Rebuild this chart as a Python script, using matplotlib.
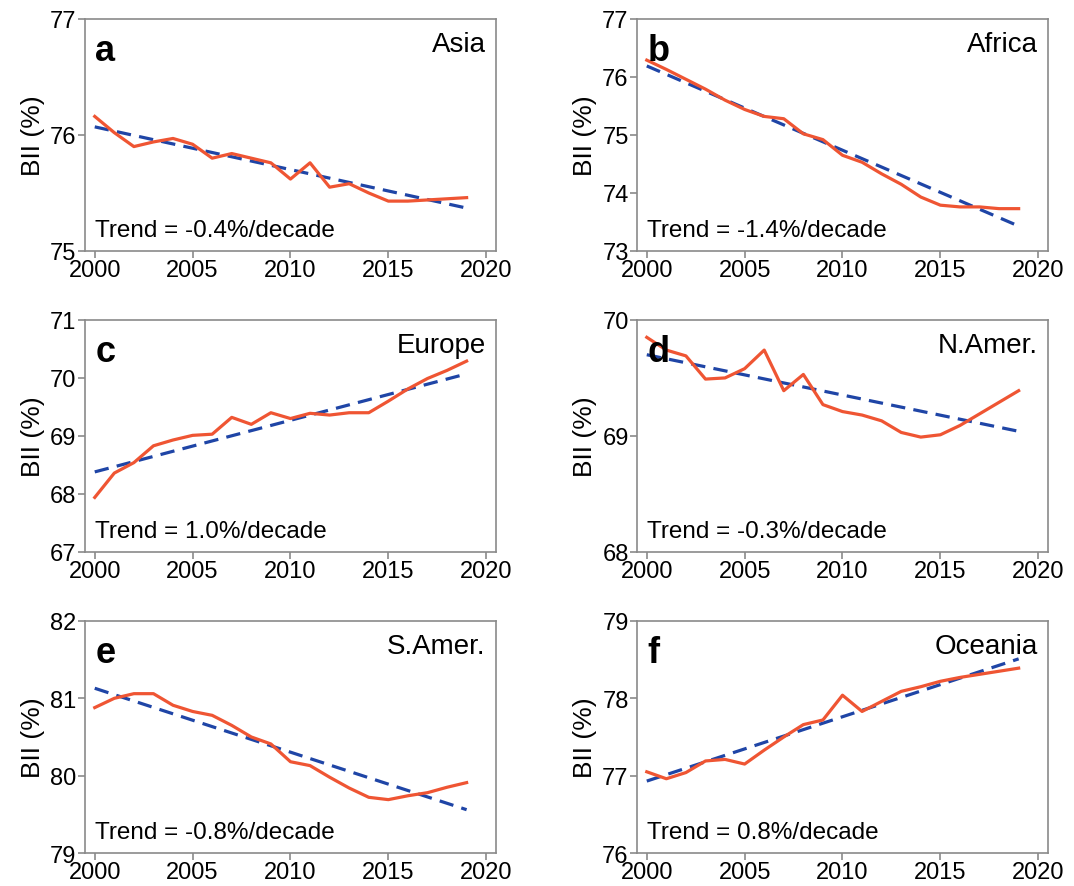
import matplotlib
matplotlib.use('Agg')
import matplotlib.pyplot as plt
import numpy as np

years = np.arange(2000, 2020)

asia = [76.16, 76.02, 75.90, 75.94, 75.97, 75.92, 75.80, 75.84, 75.80, 75.76,
        75.62, 75.76, 75.55, 75.58, 75.50, 75.43, 75.43, 75.44, 75.45, 75.46]
africa = [76.29, 76.13, 75.96, 75.79, 75.60, 75.44, 75.32, 75.28, 75.02, 74.92,
          74.65, 74.53, 74.33, 74.15, 73.93, 73.79, 73.76, 73.76, 73.73, 73.73]
europe = [67.94, 68.36, 68.54, 68.83, 68.93, 69.01, 69.03, 69.32, 69.20, 69.40,
          69.30, 69.39, 69.36, 69.40, 69.40, 69.60, 69.81, 69.99, 70.13, 70.29]
n_amer = [69.85, 69.74, 69.69, 69.49, 69.50, 69.58, 69.74, 69.39, 69.53, 69.27,
          69.21, 69.18, 69.13, 69.03, 68.99, 69.01, 69.09, 69.19, 69.29, 69.39]
s_amer = [80.88, 81.00, 81.06, 81.06, 80.91, 80.83, 80.78, 80.65, 80.50, 80.41,
          80.18, 80.13, 79.98, 79.84, 79.72, 79.69, 79.74, 79.78, 79.85, 79.91]
oceania = [77.05, 76.96, 77.04, 77.19, 77.21, 77.15, 77.33, 77.50, 77.66, 77.72,
           78.04, 77.83, 77.96, 78.09, 78.15, 78.22, 78.27, 78.31, 78.35, 78.39]

# fitted trend line, value at 2000 and at 2019
trend_ends = [(76.07, 75.37), (76.19, 73.43), (68.38, 70.07),
              (69.70, 69.04), (81.13, 79.56), (76.93, 78.51)]
trend_text = ['-0.4', '-1.4', '1.0', '-0.3', '-0.8', '0.8']
regions = ['Asia', 'Africa', 'Europe', 'N.Amer.', 'S.Amer.', 'Oceania']
letters = ['a', 'b', 'c', 'd', 'e', 'f']
series = [asia, africa, europe, n_amer, s_amer, oceania]
ylims = [(75, 77), (73, 77), (67, 71), (68, 70), (79, 82), (76, 79)]

RED = '#ef5533'
BLUE = '#1f45a6'
GREY = '#8a8a8a'

plt.rcParams['font.family'] = ['Liberation Sans', 'DejaVu Sans']

fig = plt.figure(figsize=(10.74, 8.87), dpi=100)

lefts = [0.0791, 0.5931]
bottoms = [0.7159, 0.3766, 0.0372]
width = 0.3827
height = 0.2616

for i in range(6):
    row, col = divmod(i, 2)
    ax = fig.add_axes([lefts[col], bottoms[row], width, height])
    ax.plot(years, series[i], color=RED, lw=2.3, zorder=3)
    ax.plot([years[0], years[-1]], trend_ends[i], color=BLUE, lw=2.3,
            ls=(0, (4.5, 2.6)), zorder=2)

    ax.set_xlim(1999.5, 2020.5)
    ax.set_ylim(*ylims[i])
    ax.set_xticks([2000, 2005, 2010, 2015, 2020])
    ax.set_yticks(np.arange(ylims[i][0], ylims[i][1] + 1))
    ax.set_ylabel('BII (%)', fontsize=19, labelpad=4)

    for sp in ax.spines.values():
        sp.set_color(GREY)
        sp.set_linewidth(1.2)
    ax.tick_params(direction='out', length=5, width=1.2, color=GREY,
                   labelsize=17, pad=1)

    ax.text(0.025, 0.94, letters[i], transform=ax.transAxes, fontsize=26,
            fontweight='bold', va='top', ha='left')
    ax.text(0.975, 0.95, regions[i], transform=ax.transAxes, fontsize=20,
            va='top', ha='right')
    ax.text(0.025, 0.045, 'Trend = ' + trend_text[i] + '%/decade',
            transform=ax.transAxes, fontsize=17.5, va='bottom', ha='left')

fig.savefig('out.png', dpi=100)
